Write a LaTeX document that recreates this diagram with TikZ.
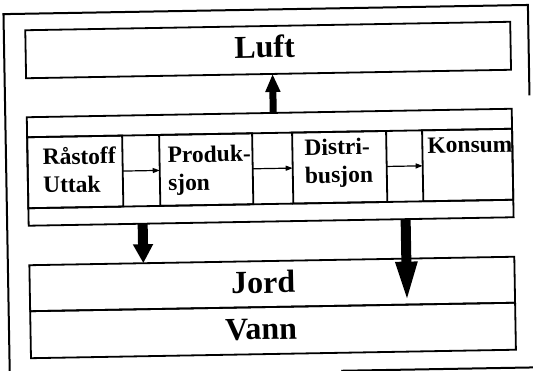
\documentclass[tikz,border=0pt]{standalone}
\usepackage{fontspec}
\setmainfont{Liberation Serif}
\usetikzlibrary{arrows.meta}
\begin{document}
\begin{tikzpicture}[x=1pt,y=-1pt,
  frame/.style={line width=2pt},
  box/.style={draw, line width=1.8pt, inner sep=0pt, outer sep=0pt, anchor=north west, minimum width=485pt},
  stagebox/.style={draw, line width=1.8pt, inner sep=0pt, outer sep=0pt, anchor=north west, minimum height=71pt},
  bigtext/.style={font=\bfseries\fontsize{32}{32}\selectfont, inner sep=0pt, anchor=base},
  stagetext/.style={font=\bfseries\fontsize{23.5}{28}\selectfont, inner sep=0pt, anchor=base west, align=left},
  flow/.style={line width=1.2pt, -{Triangle[length=7pt,width=5pt]}},
  upflow/.style={line width=7pt, -{Triangle[length=18pt,width=14pt]}},
  downshort/.style={line width=10pt, -{Triangle[length=19pt,width=19pt]}},
  downlong/.style={line width=10pt, -{Triangle[length=43pt,width=19pt]}}
]
\useasboundingbox (0,0) rectangle (533,371);
\begin{scope}[rotate around={1:(270,185)}, transform shape]
  % outer frame (partly faded in the scan)
  \draw[frame] (6.5,380) -- (6.5,9.5) -- (531,9.5) -- (531,100);
  \draw[frame] (338,372) -- (545,372);

  % Luft
  \node[box, minimum height=48pt] (luft) at (28,26) {};
  \node[bigtext] (luftt) at (267,57.5) {Luft};

  % middle system box
  \node[box, minimum height=108.5pt] (mid) at (28,113) {};
  \node[stagebox, minimum width=95pt] (s1) at (28,133) {};
  \node[stagebox, minimum width=93pt] (s2) at (160,133) {};
  \node[stagebox, minimum width=94pt] (s3) at (293,133) {};
  \node[stagebox, minimum width=90pt] (s4) at (423,133) {};
  \draw[line width=1.8pt] (s1.north west) -- (s4.north east);
  \draw[line width=1.8pt] (s1.south west) -- (s4.south east);

  % two-line nodes: the base anchor sits on the last line
  \node[stagetext] (t1) at (43,189) {Råstoff\\Uttak};
  \node[stagetext] (t2) at (168,189) {Produk-\\sjon};
  \node[stagetext] (t3) at (305,184) {Distri-\\busjon};
  \node[stagetext] (t4) at (428,156) {Konsum};

  \draw[flow] (s1.east) -- (s2.west);
  \draw[flow] (s2.east) -- (s3.west);
  \draw[flow] (s3.east) -- (s4.west);

  % Jord and Vann
  \node[box, minimum height=46pt] (jord) at (28,261) {};
  \node[box, minimum height=47pt] (vann) at (28,307) {};
  \node[bigtext] (jordt) at (261.5,293) {Jord};
  \node[bigtext] (vannt) at (258.5,339.5) {Vann};

  % big arrows
  \coordinate (ux) at (274.5,0);
  \coordinate (lx) at (142,0);
  \coordinate (rx) at (405,0);
  \draw[upflow] (mid.north -| ux) -- (luft.south -| ux);
  \draw[downshort] (mid.south -| lx) -- (jord.north -| lx);
  \draw[downlong] (mid.south -| rx) -- (jord.south -| rx);
\end{scope}
\end{tikzpicture}
\end{document}
